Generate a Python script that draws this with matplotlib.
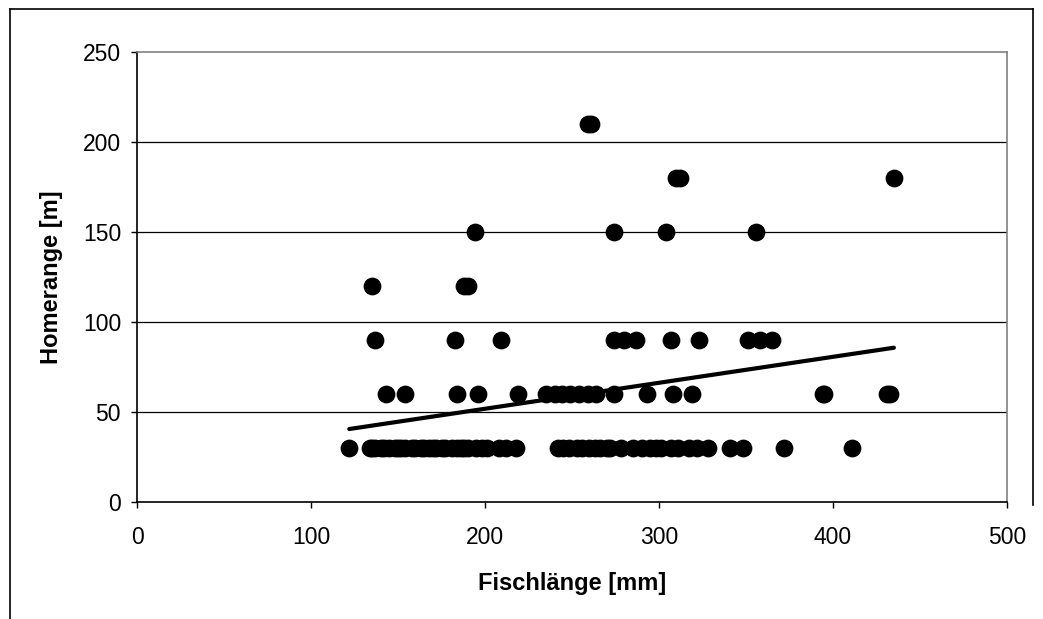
import matplotlib.pyplot as plt
import numpy as np
from matplotlib.lines import Line2D

plt.rcParams['font.family'] = ['Liberation Sans', 'DejaVu Sans']

# fish length [mm] per homerange class [m]
len_30 = [122, 134, 135, 137, 140, 142, 145, 148, 150, 152, 154, 158, 160, 163,
          165, 168, 170, 172, 175, 177, 181, 184, 186, 188, 190, 195, 198, 201,
          208, 212, 218, 242, 245, 248, 253, 256, 260, 263, 266, 270, 272, 278,
          285, 290, 295, 298, 301, 307, 311, 317, 322, 328, 341, 348, 372, 411]
len_60 = [143, 154, 184, 196, 219, 235, 240, 244, 249, 254, 259, 264, 274, 293,
          308, 319, 394, 395, 431, 433]
len_90 = [137, 183, 209, 274, 280, 287, 307, 323, 351, 358, 365]
len_120 = [135, 188, 190]
len_150 = [194, 274, 304, 356]
len_180 = [310, 312, 435]
len_210 = [259, 261]

groups = {30: len_30, 60: len_60, 90: len_90, 120: len_120,
          150: len_150, 180: len_180, 210: len_210}

x = np.concatenate([np.array(v, float) for v in groups.values()])
y = np.concatenate([np.full(len(v), k, float) for k, v in groups.items()])

fig = plt.figure(figsize=(10.43, 6.19), dpi=100)
ax = fig.add_axes([137 / 1043, 1 - 502 / 619, 870 / 1043, 450 / 619])

for yy in [50, 100, 150, 200]:
    ax.axhline(yy, color='black', lw=0.9, zorder=1)

ax.plot(x, y, 'o', color='black', ms=11.8, mec='black', zorder=3)

# linear trend over the measured range
k, d = np.polyfit(x, y, 1)
xt = np.array([x.min(), x.max()])
ax.plot(xt, k * xt + d, color='black', lw=3, solid_capstyle='round', zorder=4)

ax.set_xlim(0, 500)
ax.set_ylim(0, 250)
ax.set_xticks(range(0, 501, 100))
ax.set_yticks(range(0, 251, 50))
ax.tick_params(direction='out', length=4.5, width=1, labelsize=16.5, color='black')
ax.tick_params(axis='y', pad=7)
ax.tick_params(axis='x', pad=13)

for side in ['top', 'right']:
    ax.spines[side].set_color('#808080')
    ax.spines[side].set_linewidth(1.2)
for side in ['left', 'bottom']:
    ax.spines[side].set_color('black')
    ax.spines[side].set_linewidth(1.2)

ax.set_xlabel('Fischlänge [mm]', fontsize=17, fontweight='bold', labelpad=16)
ax.set_ylabel('Homerange [m]', fontsize=17, fontweight='bold', labelpad=14)

# chart border
fig.add_artist(Line2D([10 / 1043, 10 / 1043], [0, 1 - 9 / 619], transform=fig.transFigure, color='black', lw=1.2))
fig.add_artist(Line2D([10 / 1043, 1033 / 1043], [1 - 9 / 619, 1 - 9 / 619], transform=fig.transFigure, color='black', lw=1.2))
fig.add_artist(Line2D([1033 / 1043, 1033 / 1043], [1 - 9 / 619, 1 - 505 / 619], transform=fig.transFigure, color='black', lw=1.2))

fig.savefig('out.png', dpi=100)
